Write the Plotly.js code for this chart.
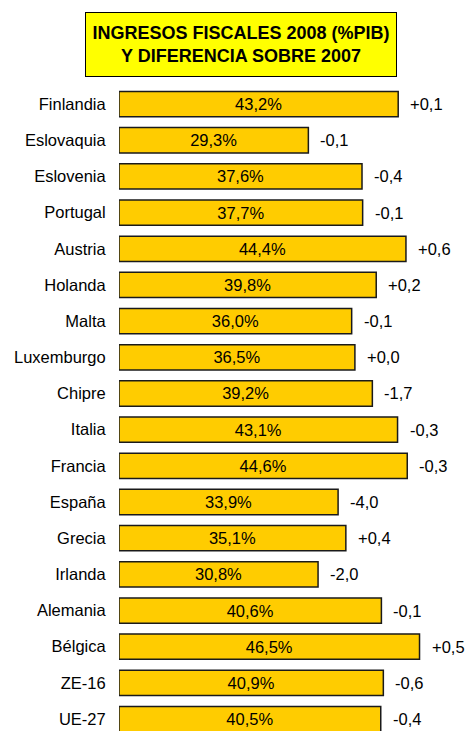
<!DOCTYPE html>
<html>
<head>
<meta charset="utf-8">
<script src="https://cdn.plot.ly/plotly-3.0.1.min.js"></script>
<style>html,body{margin:0;padding:0;background:#fff;}#chart{width:468px;height:731px;}</style>
</head>
<body>
<div id="chart"></div>
<script>
const countries = ["Finlandia","Eslovaquia","Eslovenia","Portugal","Austria","Holanda","Malta","Luxemburgo","Chipre","Italia","Francia","España","Grecia","Irlanda","Alemania","Bélgica","ZE-16","UE-27"];
const revenue2008 = [43.2,29.3,37.6,37.7,44.4,39.8,36.0,36.5,39.2,43.1,44.6,33.9,35.1,30.8,40.6,46.5,40.9,40.5];
const diffVs2007 = [0.1,-0.1,-0.4,-0.1,0.6,0.2,-0.1,0.0,-1.7,-0.3,-0.3,-4.0,0.4,-2.0,-0.1,0.5,-0.6,-0.4];
const titleLines = ["INGRESOS FISCALES 2008 (%PIB)","Y DIFERENCIA SOBRE 2007"];

const FONT = "Arial, 'Liberation Sans', sans-serif";
const fmtPct = v => v.toFixed(1).replace('.', ',') + '%';
const fmtDiff = v => (v >= 0 ? '+' : '-') + Math.abs(v).toFixed(1).replace('.', ',');

const trace = {
  type: 'bar',
  orientation: 'h',
  x: revenue2008,
  y: countries,
  width: 0.7,
  marker: {color: '#FFCC00', line: {color: '#1a1a1a', width: 1.5}},
  text: revenue2008.map(fmtPct),
  textposition: 'inside',
  insidetextanchor: 'middle',
  textangle: 0,
  textfont: {family: FONT, size: 16.5, color: '#000'},
  hoverinfo: 'none'
};

const annotations = countries.map((c, i) => ({
  x: revenue2008[i], y: c, xref: 'x', yref: 'y',
  text: fmtDiff(diffVs2007[i]),
  showarrow: false, xanchor: 'left', xshift: 10,
  font: {family: FONT, size: 16.5, color: '#000'}
}));

annotations.push({
  xref: 'paper', yref: 'paper', x: 0.3496, y: 1.0643,
  xanchor: 'center', yanchor: 'middle',
  text: '<b>' + titleLines.join('<br>') + '</b>',
  showarrow: false,
  bgcolor: '#FFFF00', bordercolor: '#000', borderwidth: 1, borderpad: 0,
  width: 310, height: 63, align: 'center',
  font: {family: FONT, size: 18, color: '#000'}
});

const layout = {
  width: 468, height: 731,
  margin: {l: 119, r: 0, t: 86, b: 0, pad: 0},
  paper_bgcolor: '#fff', plot_bgcolor: '#fff',
  showlegend: false,
  xaxis: {range: [0, 54], showgrid: false, zeroline: false, showticklabels: false, showline: false, fixedrange: true},
  yaxis: {range: [17.33, -0.5], type: 'category', showgrid: false, zeroline: false, showline: false,
          ticks: 'outside', ticklen: 9, tickcolor: 'rgba(0,0,0,0)',
          tickfont: {family: FONT, size: 16.5, color: '#000'}, fixedrange: true},
  annotations: annotations
};

Plotly.newPlot('chart', [trace], layout, {staticPlot: true, displayModeBar: false});
</script>
</body>
</html>
